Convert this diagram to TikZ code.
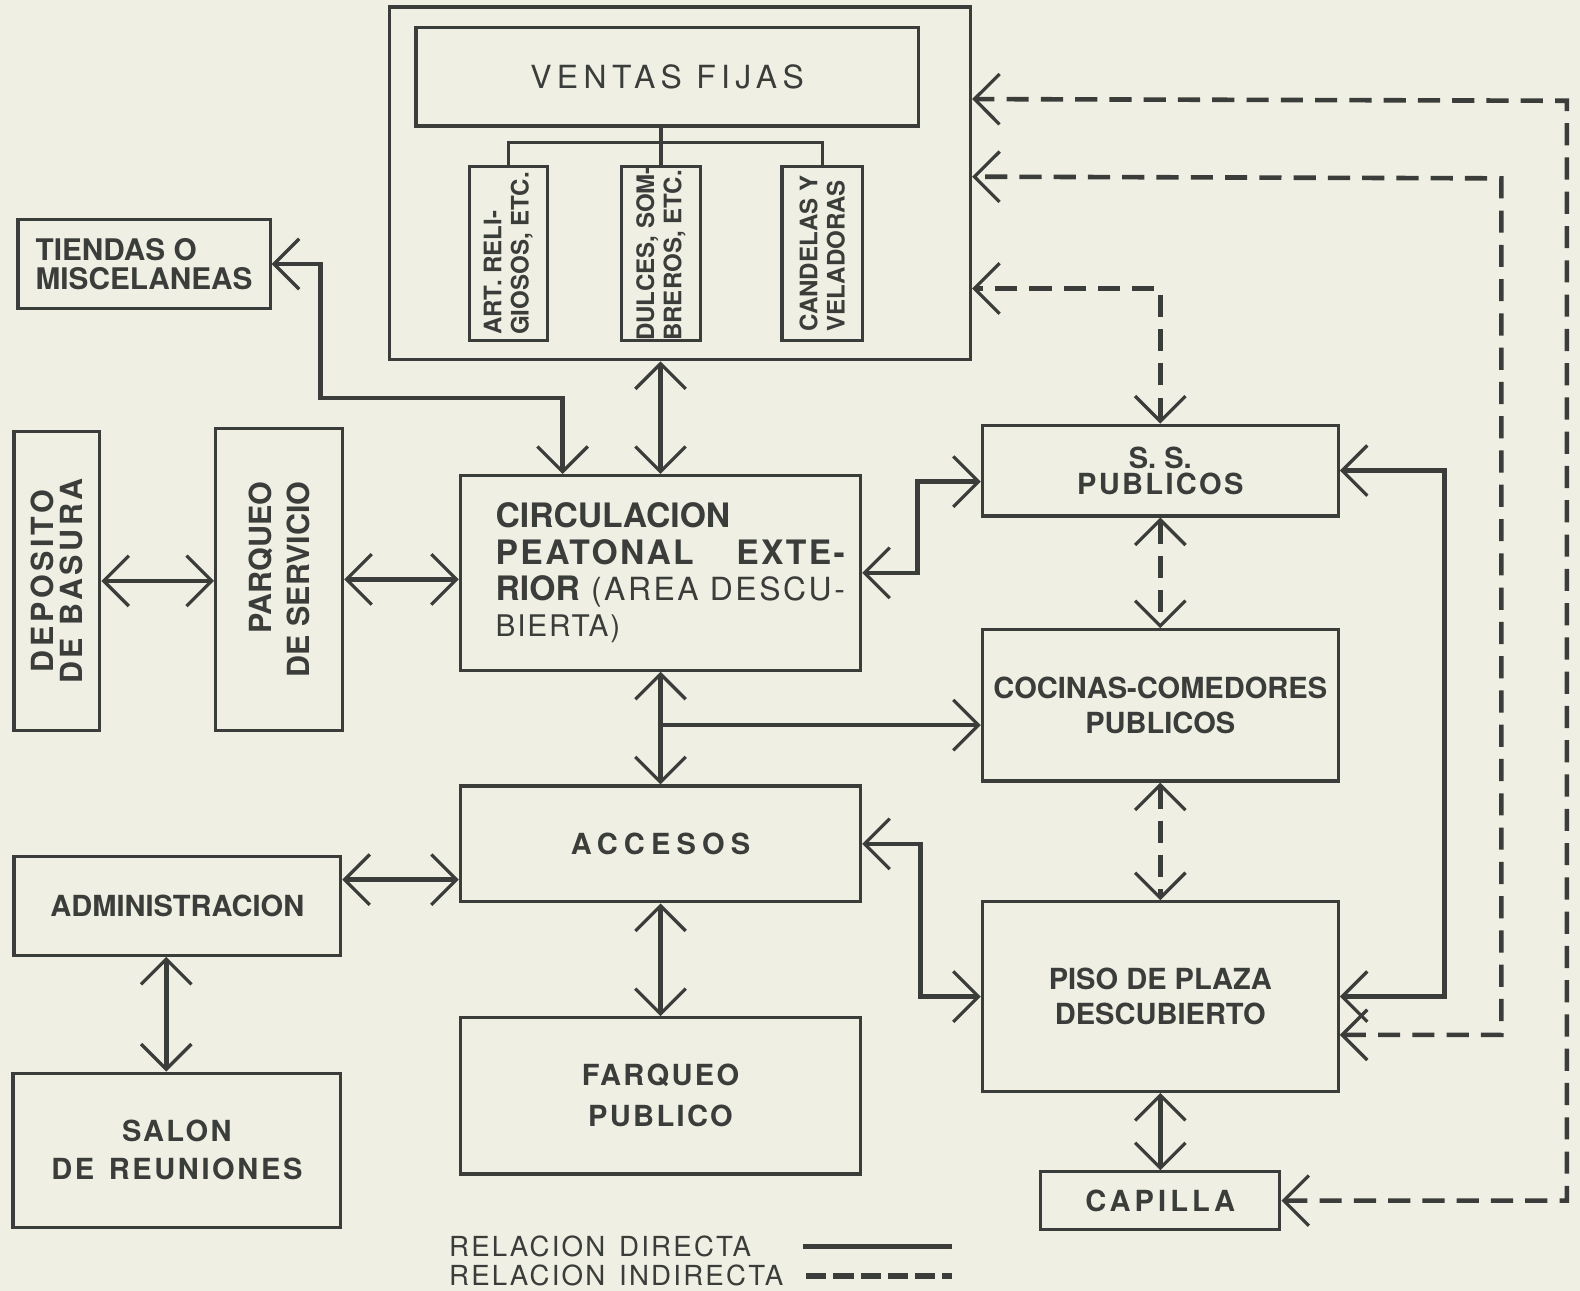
\documentclass[tikz,border=0pt]{standalone}
\usepackage{fontspec}
\setmainfont{TeX Gyre Heros}
\usetikzlibrary{arrows.meta,calc}
\definecolor{PaperCream}{HTML}{EFEFE3}
\definecolor{InkGray}{HTML}{3A3D39}
\newcommand{\lsp}[2]{{\addfontfeatures{LetterSpace=#1}#2}}
\tikzset{
  vbarb/.tip={Straight Barb[length=2.5mm,width=5mm,line width=0pt 0.7]},
  blk/.style={draw=InkGray, line width=0.9pt, inner sep=0pt, text=InkGray,
    font=\fontsize{8.2}{9.8}\selectfont\bfseries, align=center},
  vtxt/.style={rotate=90, inner sep=0pt, text=InkGray,
    font=\fontsize{8.6}{8}\selectfont\bfseries, align=center},
  link/.style={draw=InkGray, line width=1.3pt, vbarb-vbarb},
  dlink/.style={link, dash pattern=on 0.22cm off 0.12cm},
  legtxt/.style={inner sep=0pt, text=InkGray, font=\fontsize{7.8}{9}\selectfont}
}
\begin{document}
\begin{tikzpicture}[x=0.01cm, y=-0.01cm]
  \useasboundingbox (0,0) rectangle (1568,1281);
  \fill[PaperCream] (0,0) rectangle (1568,1281);

  \node[blk, minimum width=5.76cm, minimum height=3.5cm] (ventas) at (675,182) {};
  \node[blk, minimum width=4.98cm, minimum height=0.98cm] (ventasfijas) at (662,76)
    {\fontsize{9}{11}\selectfont\mdseries\lsp{17}{VENTAS FIJAS}};
  \node[blk, minimum width=0.77cm, minimum height=1.73cm] (art) at (504.5,251.5) {};
  \node[blk, minimum width=0.78cm, minimum height=1.73cm] (dulces) at (656,251.5) {};
  \node[blk, minimum width=0.80cm, minimum height=1.73cm] (candelas) at (816,251.5) {};
  \node[vtxt, align=left, font=\fontsize{6.8}{7.7}\selectfont\bfseries] (arttxt) at (art) {ART. RELI-\\GIOSOS, ETC.};
  \node[vtxt, align=left, font=\fontsize{6.8}{7.7}\selectfont\bfseries] (dulcestxt) at (dulces) {DULCES, SOM-\\BREROS, ETC.};
  \node[vtxt, align=left, font=\fontsize{6.8}{7.7}\selectfont\bfseries] (candelastxt) at (candelas) {CANDELAS Y\\VELADORAS};
  \draw[InkGray, line width=0.9pt] (dulces.north |- ventasfijas.south) -- (dulces.north);
  \draw[InkGray, line width=0.9pt] (art.north) |- ($(dulces.north)+(0,-22)$) -| (candelas.north);

  \node[blk, align=left, minimum width=2.5cm, minimum height=0.88cm,
    font=\fontsize{8.4}{8}\selectfont\bfseries] (tiendas) at (143,262) {TIENDAS O\\MISCELANEAS};
  \node[blk, minimum width=0.85cm, minimum height=2.97cm] (deposito) at (56.5,576.5) {};
  \node[vtxt] (depositotxt) at (deposito) {\lsp{12}{DEPOSITO}\\\lsp{12}{DE BASURA}};
  \node[blk, minimum width=1.26cm, minimum height=3.0cm] (pserv) at (277,575) {};
  \node[vtxt, align=right, font=\fontsize{8.6}{10.6}\selectfont\bfseries] (pservtxt) at (pserv) {PARQUEO\\DE SERVICIO};

  \node[blk, text width=3.27cm, align=left, minimum width=3.97cm, minimum height=1.93cm,
    font=\fontsize{9.5}{10.2}\selectfont\bfseries] (circ) at (655.5,568.5)
    {CIRCULACION\\\mbox{\lsp{7}{PEATONAL}\hspace{12pt}\lsp{7}{EXTE-}}\\\mbox{RIOR {\mdseries\fontsize{9}{10.2}\selectfont\lsp{8}{(AREA DESCU-}}}\\{\mdseries\fontsize{8.4}{10.2}\selectfont\lsp{6}{BIERTA)}}};
  \node[blk, minimum width=3.97cm, minimum height=1.15cm] (accesos) at (655.5,837.5) {\lsp{21}{ACCESOS}};
  \node[blk, minimum width=3.97cm, minimum height=1.55cm, font=\fontsize{8.2}{11.6}\selectfont\bfseries]
    (farqueo) at (655.5,1087.5) {\lsp{8}{FARQUEO}\\\lsp{8}{PUBLICO}};
  \node[blk, minimum width=3.24cm, minimum height=0.98cm] (admin) at (176,899) {ADMINISTRACION};
  \node[blk, minimum width=3.25cm, minimum height=1.53cm, font=\fontsize{8.2}{10.8}\selectfont\bfseries]
    (salon) at (175.5,1141.5) {\lsp{8}{SALON}\hspace{8pt}\\\lsp{9}{DE\enspace REUNIONES}};

  \node[blk, minimum width=3.53cm, minimum height=0.90cm, font=\fontsize{8.2}{7.4}\selectfont\bfseries]
    (ss) at (1151.5,467) {S. S.\\\lsp{8}{PUBLICOS}};
  \node[blk, minimum width=3.53cm, minimum height=1.50cm] (cocinas) at (1151.5,700) {COCINAS-COMEDORES\\PUBLICOS};
  \node[blk, minimum width=3.53cm, minimum height=1.88cm] (piso) at (1151.5,989) {PISO DE PLAZA\\DESCUBIERTO};
  \node[blk, minimum width=2.37cm, minimum height=0.57cm] (capilla) at (1151.5,1191.5) {\lsp{14}{CAPILLA}};

  \draw[link] (tiendas.east) -| (318,395) -| ($(circ.north west)+(103,0)$);
  \draw[link] (circ.north |- ventas.south) -- (circ.north);
  \draw[link] (deposito.east) -- (deposito.east -| pserv.west);
  \draw[link] (pserv.east) -- (pserv.east -| circ.west);
  \draw[link] (circ.east) -- ++(55,0) |- ($(ss.west)+(0,11)$);
  \draw[link] (circ.south) -- (accesos.north);
  \coordinate (branch) at ($(circ.south)+(0,53)$);
  \draw[link, -vbarb] (branch) -- (branch -| cocinas.west);
  \draw[link] (accesos.east) -- ++(58,0) |- (piso.west);
  \coordinate (adminout) at ($(admin.east)+(0,-26)$);
  \draw[link] (adminout) -- (adminout -| accesos.west);
  \coordinate (adminlow) at ($(admin.south)+(-11,0)$);
  \draw[link] (adminlow) -- (adminlow |- salon.north);
  \draw[link] (accesos.south) -- (farqueo.north);
  \draw[link] (ss.east) -- ++(104,0) |- (piso.east);
  \draw[link] (piso.south) -- (capilla.north);

  \draw[dlink] (ss.north) |- ($(ventas.north east)+(0,281)$);
  \draw[dlink] (ss.south) -- (cocinas.north);
  \draw[dlink] (cocinas.south) -- (piso.north);
  \draw[dlink] ($(piso.east)+(0,38)$) -| (1490,177) -- ($(ventas.north east)+(0,170)$);
  \draw[dlink] (capilla.east) -| (1555,100) -- ($(ventas.north east)+(0,93)$);

  \node[legtxt, anchor=west] (legdir) at (445,1237) {\lsp{8}{RELACION\enspace DIRECTA}};
  \node[legtxt, anchor=west] (legind) at (445,1266) {\lsp{8}{RELACION\enspace INDIRECTA}};
  \draw[InkGray, line width=1.6pt] ($(legdir.west)+(352,0)$) -- ++(148,0);
  \draw[InkGray, line width=1.8pt, dash pattern=on 0.2cm off 0.07cm] ($(legind.west)+(355,0)$) -- ++(145,0);
\end{tikzpicture}
\end{document}
